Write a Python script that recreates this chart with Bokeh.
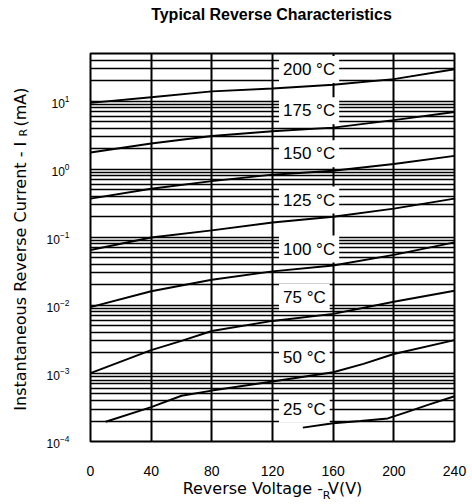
import math
from bokeh.plotting import figure
from bokeh.models import FixedTicker, Label, Range1d, LogTickFormatter, LinearAxis
from bokeh.embed import file_html
from bokeh.resources import INLINE

# ---------------- data ----------------
title_text = "Typical Reverse Characteristics"
x_title = "Reverse Voltage - V(V)"
y_title_main = "Instantaneous Reverse Current - I"
y_title_unit = "(mA)"
sub_r = "R"

x_ticks = [0, 40, 80, 120, 160, 200, 240]
y_decades = [-4, -3, -2, -1, 0, 1]
y_min, y_max = 1e-4, 50

temps = ["200 °C", "175 °C", "150 °C", "125 °C", "100 °C", "75 °C", "50 °C", "25 °C"]

x_200 = [0, 40, 80, 120, 160, 200, 240]
i_200 = [9.4, 11.4, 13.9, 15.3, 17.4, 21.0, 29.4]

x_175 = [0, 40, 80, 120, 160, 200, 240]
i_175 = [1.76, 2.38, 3.07, 3.6, 4.07, 5.25, 6.9]

x_150 = [0, 40, 80, 120, 160, 200, 240]
i_150 = [0.37, 0.515, 0.667, 0.83, 0.95, 1.19, 1.57]

x_125 = [0, 40, 80, 120, 160, 200, 240]
i_125 = [0.065, 0.099, 0.126, 0.165, 0.2, 0.263, 0.37]

x_100 = [0, 40, 80, 120, 160, 200, 240]
i_100 = [0.0094, 0.0161, 0.0238, 0.0315, 0.0385, 0.055, 0.084]

x_75 = [0, 40, 60, 80, 120, 160, 200, 240]
i_75 = [0.00101, 0.0022, 0.0030, 0.0042, 0.0059, 0.0075, 0.0113, 0.0164]

x_50 = [10, 40, 60, 80, 120, 160, 180, 200, 240]
i_50 = [1.95e-4, 3.2e-4, 4.7e-4, 5.6e-4, 7.6e-4, 1.04e-3, 1.38e-3, 1.93e-3, 3.08e-3]

x_25 = [140, 160, 178, 196, 209, 222, 240]
i_25 = [1.6e-4, 1.85e-4, 2.0e-4, 2.18e-4, 2.73e-4, 3.42e-4, 4.62e-4]

series = [(x_200, i_200), (x_175, i_175), (x_150, i_150), (x_125, i_125),
          (x_100, i_100), (x_75, i_75), (x_50, i_50), (x_25, i_25)]

# temperature label anchors (data units)
label_x = 124.3
label_y = [29.0, 7.19, 1.69, 0.352, 0.067, 0.0132, 1.73e-3, 2.97e-4]

# ---------------- layout constants ----------------
FW, FH = 364, 392          # frame size in pixels
# title / axis-title piece centres, in pixels along the frame
title_px = 181
y_title_px = [167, 338]
y_sub_px = 312
x_sub_px = 236


def ypx(px):
    """pixel height above the frame bottom -> value on the log y axis"""
    span = math.log10(y_max) - math.log10(y_min)
    return 10 ** (math.log10(y_min) + px / FH * span)


# ---------------- figure ----------------
p = figure(width=472, height=504,
           x_range=Range1d(0, 240), y_range=Range1d(y_min, y_max),
           y_axis_type="log", output_backend="svg", toolbar_location=None,
           min_border_left=90, min_border_right=18,
           min_border_top=53, min_border_bottom=59)
p.extra_x_ranges = {"px": Range1d(0, FW)}
p.title.text = ""
p.title.standoff = 0

p.outline_line_color = "black"
p.outline_line_width = 2

xt = FixedTicker(ticks=x_ticks)
major = [10.0 ** d for d in y_decades]
minor = [k * 10.0 ** d for d in y_decades for k in range(2, 10)]
minor = [m for m in minor if m <= y_max]
yt = FixedTicker(ticks=major, minor_ticks=minor)

p.xaxis.ticker = xt
p.yaxis.ticker = yt
p.xgrid.ticker = xt
p.ygrid.ticker = yt
p.yaxis.formatter = LogTickFormatter()


def plain(ax):
    ax.axis_line_color = None
    ax.major_tick_line_color = None
    ax.minor_tick_line_color = None
    ax.major_tick_out = 0
    ax.major_tick_in = 0
    ax.minor_tick_out = 0
    ax.minor_tick_in = 0
    ax.major_label_text_color = "black"


for ax in (p.xaxis[0], p.yaxis[0]):
    plain(ax)
    ax.major_label_text_font = "Liberation Sans"

p.xaxis.major_label_text_font_size = "14px"
p.xaxis.major_label_standoff = 24
p.xaxis.axis_label = x_title
p.xaxis.axis_label_text_font = "DejaVu Sans"
p.xaxis.axis_label_text_font_size = "16px"
p.xaxis.axis_label_text_font_style = "normal"
p.xaxis.axis_label_text_color = "black"
p.xaxis.axis_label_standoff = 0

p.yaxis.major_label_text_font_size = "12px"
p.yaxis.major_label_standoff = 21

p.xgrid.grid_line_color = "black"
p.xgrid.grid_line_width = 2
p.ygrid.grid_line_color = "black"
p.ygrid.grid_line_width = 1.4
p.ygrid.minor_grid_line_color = "black"
p.ygrid.minor_grid_line_width = 1.4

for xs, ys in series:
    p.line(xs, ys, line_color="black", line_width=1.9)

for txt, ly in zip(temps, label_y):
    p.add_layout(Label(x=label_x, y=ly, text=txt, text_align="left",
                       text_baseline="middle", text_font="Liberation Sans",
                       text_font_size="17px", text_color="black",
                       background_fill_color="white", padding=4))

# chart title (above)
xa_title = LinearAxis(x_range_name="px", ticker=FixedTicker(ticks=[title_px]),
                      major_label_overrides={title_px: title_text},
                      major_label_text_font="Liberation Sans",
                      major_label_text_font_size="16px",
                      major_label_text_font_style="bold",
                      major_label_standoff=31)
plain(xa_title)
p.add_layout(xa_title, "above")

# y-axis title pieces (placed on the log y scale)
y_main_pos = ypx(y_title_px[0])
y_unit_pos = ypx(y_title_px[1])
y_sub_pos = ypx(y_sub_px)

ya_title = LinearAxis(ticker=FixedTicker(ticks=[y_main_pos, y_unit_pos]),
                      major_label_overrides={y_main_pos: y_title_main,
                                             y_unit_pos: y_title_unit},
                      major_label_orientation="vertical",
                      major_label_text_font="DejaVu Sans",
                      major_label_text_font_size="16px",
                      major_label_standoff=13)
plain(ya_title)
p.add_layout(ya_title, "left")

ya_sub = LinearAxis(ticker=FixedTicker(ticks=[y_sub_pos]),
                    major_label_overrides={y_sub_pos: sub_r},
                    major_label_orientation="vertical",
                    major_label_text_font="DejaVu Sans",
                    major_label_text_font_size="11px",
                    major_label_standoff=-22)
plain(ya_sub)
p.add_layout(ya_sub, "left")

xa_sub = LinearAxis(x_range_name="px", ticker=FixedTicker(ticks=[x_sub_px]),
                    major_label_overrides={x_sub_px: sub_r},
                    major_label_text_font="DejaVu Sans",
                    major_label_text_font_size="11px",
                    major_label_standoff=-12)
plain(xa_sub)
p.add_layout(xa_sub, "below")

open("out.html", "w").write(file_html(p, INLINE))
